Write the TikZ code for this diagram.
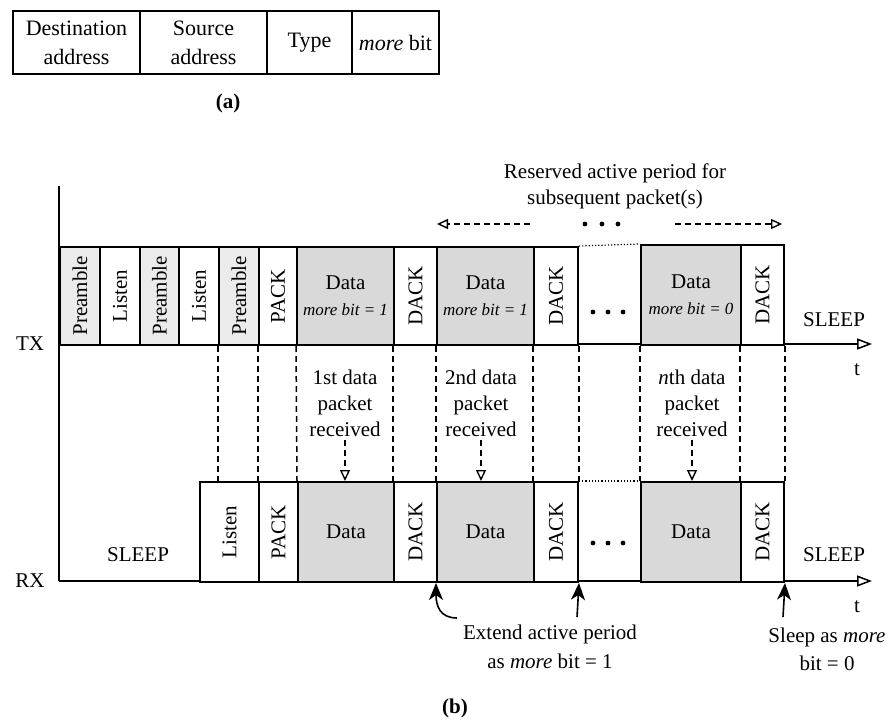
\documentclass[tikz,border=0pt]{standalone}
\usepackage{fontspec}
\setmainfont{Liberation Serif}
\usepackage{graphicx}
\usetikzlibrary{arrows.meta}
\definecolor{datagray}{HTML}{D9D9D9}
\definecolor{pregray}{HTML}{EBEBEB}
\newcommand\mkcell[7]{\node[#1, minimum width={(#4-#3)*1pt}, minimum height={(#6-#5)*1pt}, anchor=north west] (#2) at (#3,#5) {#7};}
\newcommand\rot[1]{\rotatebox{90}{#1}}
\newcommand\smit[1]{{\fontsize{17}{20}\selectfont\itshape #1}}
\begin{document}
\begin{tikzpicture}[x=1pt,y=-1pt,font=\fontsize{21}{26}\selectfont,
  cellbox/.style={draw, line width=2pt, inner sep=0pt, align=center, fill=white},
  prebox/.style={cellbox, fill=pregray},
  databox/.style={cellbox, fill=datagray},
  tabbox/.style={cellbox, font=\fontsize{22}{29}\selectfont},
  axisline/.style={line width=1.7pt},
  axisarrow/.style={line width=1.5pt, -{Triangle[open, length=15pt, width=11pt, line width=1.5pt]}},
  dashv/.style={line width=1.5pt, dash pattern=on 6pt off 4pt},
  dasharr/.style={line width=1.5pt, dash pattern=on 6pt off 4pt, -{Triangle[open, length=11pt, width=10pt, line width=1.4pt]}},
  uparrow/.style={line width=1.6pt, -{Stealth[length=17pt, width=14pt, inset=5pt]}},
  gapdot/.style={fill=black},
  dotline/.style={line width=1.2pt, dotted}
]
\useasboundingbox (0,0) rectangle (891,722);

% (a) frame table
\mkcell{tabbox}{ta1}{12}{139}{10}{73}{Destination\\address}
\mkcell{tabbox}{ta2}{139}{266}{10}{73}{Source\\address}
\mkcell{tabbox}{ta3}{266}{351}{10}{73}{Type}
\mkcell{tabbox}{ta4}{351}{438}{10}{73}{\textit{more} bit}
\node (la) at (228,103) {\textbf{(a)}};

% axes
\draw[axisline] (59,186) -- (59,581);
\draw[axisarrow] (59,344) -- (872,344);
\draw[axisarrow] (59,581) -- (872,581);
\node (tx) at (30,344) {TX};
\node (rx) at (30,581) {RX};
\node (tt) at (857,370) {t};
\node (rt) at (857,607) {t};
\node (tsl) at (834,320) {SLEEP};
\node (rsl) at (834,555) {SLEEP};
\node (lsl) at (138,555) {SLEEP};

% TX cells
\mkcell{prebox}{p1}{59}{99}{246}{344}{\rot{Preamble}}
\mkcell{cellbox}{l1}{99}{139}{246}{344}{\rot{Listen}}
\mkcell{prebox}{p2}{139}{178}{246}{344}{\rot{Preamble}}
\mkcell{cellbox}{l2}{178}{218}{246}{344}{\rot{Listen}}
\mkcell{prebox}{p3}{218}{258}{246}{344}{\rot{Preamble}}
\mkcell{cellbox}{pk}{258}{296}{246}{344}{\rot{PACK}}
\mkcell{databox}{d1}{296}{393}{246}{344}{Data\\\smit{more bit = 1}}
\mkcell{cellbox}{a1}{393}{436}{246}{344}{\rot{DACK}}
\mkcell{databox}{d2}{436}{533}{246}{344}{Data\\\smit{more bit = 1}}
\mkcell{cellbox}{a2}{533}{577}{246}{344}{\rot{DACK}}
\mkcell{databox}{dn}{640}{740}{244}{344}{Data\\\smit{more bit = 0}}
\mkcell{cellbox}{an}{740}{783}{244}{344}{\rot{DACK}}
\draw[dotline] (a2.north east) -- (dn.north west);

% RX cells
\mkcell{cellbox}{rl}{199}{258}{481}{581}{\rot{Listen}}
\mkcell{cellbox}{rp}{258}{297}{481}{581}{\rot{PACK}}
\mkcell{databox}{rd1}{297}{393}{481}{581}{Data}
\mkcell{cellbox}{ra1}{393}{436}{481}{581}{\rot{DACK}}
\mkcell{databox}{rd2}{436}{533}{481}{581}{Data}
\mkcell{cellbox}{ra2}{533}{577}{481}{581}{\rot{DACK}}
\mkcell{databox}{rdn}{640}{740}{481}{581}{Data}
\mkcell{cellbox}{ran}{740}{783}{481}{581}{\rot{DACK}}
\draw[dotline] (ra2.north east) -- (rdn.north west);

% gap dots
\foreach \xx in {593,608,623} {
  \fill[gapdot] (\xx,312) circle (2.4pt);
  \fill[gapdot] (\xx,543) circle (2.4pt);
}

% dashed verticals
\draw[dashv] (p3.south west) -- (p3.south west |- rl.north);
\draw[dashv] (pk.south west) -- (rp.north west);
\draw[dashv] (d1.south west) -- (rd1.north west);
\draw[dashv] (a1.south west) -- (ra1.north west);
\draw[dashv] (d2.south west) -- (rd2.north west);
\draw[dashv] (a2.south west) -- (ra2.north west);
\draw[dashv] (a2.south east) -- (ra2.north east);
\draw[dashv] (dn.south west) -- (rdn.north west);
\draw[dashv] (an.south west) -- (ran.north west);
\draw[dashv] (an.south east) -- (ran.north east);

% received labels
\node[align=center] (r1) at (345,403) {1st data\\packet\\received};
\node[align=center] (r2) at (481,403) {2nd data\\packet\\received};
\node[align=center] (rn) at (692,403) {\textit{n}th data\\packet\\received};
\draw[dasharr] (r1.south) -- (r1.south |- rd1.north);
\draw[dasharr] (r2.south) -- (r2.south |- rd2.north);
\draw[dasharr] (rn.south) -- (rn.south |- rdn.north);

% reserved period
\node[align=center] (res) at (615,186) {Reserved active period for\\subsequent packet(s)};
\coordinate (resl1) at (530,224);
\coordinate (resl2) at (437,224);
\coordinate (resr1) at (675,224);
\coordinate (resr2) at (782,224);
\draw[dasharr] (resl1) -- (resl2);
\draw[dasharr] (resr1) -- (resr2);
\foreach \xx in {585,602,618} \fill[gapdot] (\xx,224) circle (2.4pt);

% bottom annotations
\node[align=center] (ext) at (550,647) {Extend active period\\[3pt]as \textit{more} bit = 1};
\node[align=center] (slp) at (827,649) {Sleep as \textit{more}\\[2pt]bit = 0};
\coordinate (extc) at (457,618);
\coordinate (a577) at (577,617);
\coordinate (a783) at (783,617);
\draw[uparrow] (extc) .. controls (440,618) and (436,606) .. (rd2.south west);
\draw[uparrow] (a577) -- (ra2.south east);
\draw[uparrow] (a783) -- (ran.south east);

\node (lb) at (455,708) {\textbf{(b)}};
\end{tikzpicture}
\end{document}
